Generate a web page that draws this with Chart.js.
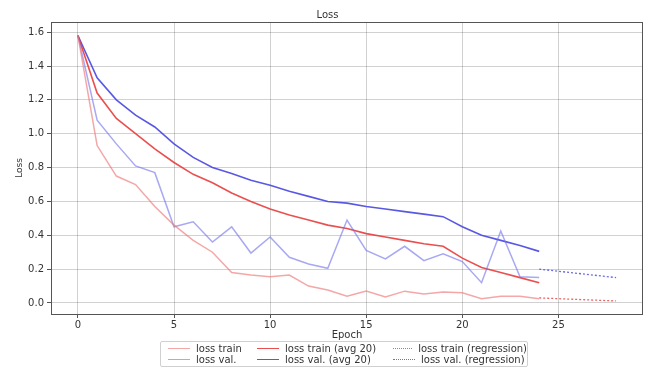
<!DOCTYPE html>
<html>
<head>
<meta charset="utf-8">
<script src="https://cdn.jsdelivr.net/npm/chart.js@4.4.0/dist/chart.umd.min.js"></script>
<style>
    html, body { margin: 0; padding: 0; background: #fff; }
    #wrap { position: relative; width: 650px; height: 369px; }
    #legend
    {
        position: absolute; left: 160px; top: 341px; width: 368px; height: 26px;
        border: 1px solid #d0d0d0; border-radius: 2px; box-sizing: border-box;
        display: grid; grid-template-columns: 89px 136px 134px; grid-template-rows: 11px 11px;
        padding: 1px 0 0 7px;
        font: 10px "DejaVu Sans", sans-serif; color: #333;
    }
    .item { display: flex; align-items: center; white-space: nowrap; line-height: 11px; }
    .swatch { width: 22px; height: 0; margin-right: 6px; border-top-width: 1.5px; }
</style>
</head>
<body>
<div id="wrap">
    <canvas id="lossChart" width="650" height="369"></canvas>
    <div id="legend"></div>
</div>
<script>
const epochs = [0,1,2,3,4,5,6,7,8,9,10,11,12,13,14,15,16,17,18,19,20,21,22,23,24];
const lossTrain = [1.58,0.93,0.75,0.70,0.57,0.46,0.37,0.30,0.18,0.165,0.155,0.165,0.10,0.077,0.04,0.07,0.035,0.07,0.053,0.065,0.06,0.025,0.04,0.04,0.025];
const lossTrainAvg = [1.58,1.24,1.09,1.00,0.91,0.83,0.76,0.71,0.65,0.60,0.555,0.52,0.49,0.46,0.44,0.41,0.39,0.37,0.35,0.335,0.265,0.21,0.18,0.15,0.12];
const lossVal = [1.58,1.08,0.94,0.81,0.77,0.45,0.48,0.36,0.45,0.295,0.39,0.27,0.23,0.205,0.49,0.31,0.26,0.335,0.25,0.29,0.245,0.12,0.425,0.155,0.15];
const lossValAvg = [1.58,1.33,1.20,1.11,1.04,0.94,0.86,0.80,0.765,0.725,0.695,0.66,0.63,0.60,0.59,0.57,0.555,0.54,0.525,0.51,0.45,0.40,0.37,0.34,0.305];
const regEpochs = [24, 28];
const lossTrainReg = [0.03, 0.012];
const lossValReg = [0.20, 0.15];
const xTicks = [0, 5, 10, 15, 20, 25];
const yTicks = [0.0, 0.2, 0.4, 0.6, 0.8, 1.0, 1.2, 1.4, 1.6];

function pts(xs, ys) 
{
    return xs.map((x, i) => ({ x: x, y: ys[i] }));
}

const FONT = '"DejaVu Sans", sans-serif';

const datasets = [
    { label: 'loss train', data: pts(epochs, lossTrain), borderColor: 'rgba(238,120,120,0.65)', borderWidth: 1.5 },
    { label: 'loss val.', data: pts(epochs, lossVal), borderColor: 'rgba(110,110,235,0.6)', borderWidth: 1.5 },
    { label: 'loss train (avg 20)', data: pts(epochs, lossTrainAvg), borderColor: 'rgba(232,60,60,0.9)', borderWidth: 1.6 },
    { label: 'loss val. (avg 20)', data: pts(epochs, lossValAvg), borderColor: 'rgba(70,70,225,0.9)', borderWidth: 1.6 },
    { label: 'loss train (regression)', data: pts(regEpochs, lossTrainReg), borderColor: 'rgba(232,60,60,0.8)', borderWidth: 1.3, borderDash: [2, 2] },
    { label: 'loss val. (regression)', data: pts(regEpochs, lossValReg), borderColor: 'rgba(70,70,225,0.8)', borderWidth: 1.3, borderDash: [2, 2] }
];
datasets.forEach(d => { d.pointRadius = 0; d.tension = 0; d.fill = false; });

const frame = {
    id: 'frame',
    afterDraw(chart) 
    {
        const a = chart.chartArea, c = chart.ctx;
        c.save();
        c.strokeStyle = '#555';
        c.lineWidth = 1;
        c.strokeRect(Math.round(a.left) + 0.5, Math.round(a.top) + 0.5, Math.round(a.right - a.left) - 1, Math.round(a.bottom - a.top));
        c.restore();
    }
};

const ctx = document.getElementById('lossChart').getContext('2d');
new Chart(ctx, {
    type: 'line',
    data: { datasets: datasets },
    options: 
    {
        responsive: false,
        animation: false,
        layout: { padding: { left: 12, right: 7, top: 0, bottom: 28 } },
        plugins: 
        {
            legend: { display: false },
            tooltip: { enabled: false },
            title: 
            {
                display: true,
                text: 'Loss',
                color: '#333',
                font: { family: FONT, size: 10, weight: 'normal' },
                padding: { top: 9, bottom: 1 }
            }
        },
        scales: 
        {
            x: 
            {
                type: 'linear',
                min: -1.4,
                max: 29.4,
                afterBuildTicks: s => { s.ticks = xTicks.map(v => ({ value: v })); },
                afterFit: s => { s.height = 27; },
                ticks: { color: '#333', font: { family: FONT, size: 10 }, padding: 1, maxRotation: 0 },
                grid: { color: 'rgba(0,0,0,0.18)', tickColor: '#555', tickLength: 4 },
                border: { display: false },
                title: { display: true, text: 'Epoch', color: '#333', font: { family: FONT, size: 10 }, padding: { top: 0, bottom: 0 } }
            },
            y: 
            {
                min: -0.065,
                max: 1.66,
                afterBuildTicks: s => { s.ticks = yTicks.map(v => ({ value: v })); },
                afterFit: s => { s.width = 39; },
                ticks: { color: '#333', font: { family: FONT, size: 10 }, padding: 3, callback: v => v.toFixed(1) },
                grid: { color: 'rgba(0,0,0,0.18)', tickColor: '#555', tickLength: 4 },
                border: { display: false },
                title: { display: true, text: 'Loss', color: '#333', font: { family: FONT, size: 9 }, padding: { top: 2, bottom: 0 } }
            }
        }
    },
    plugins: [frame]
});

// legend, 3 columns like matplotlib (ncol=3, filled column-wise)
const order = [0, 2, 4, 1, 3, 5];
const legend = document.getElementById('legend');
order.forEach(i => {
    const d = datasets[i];
    const item = document.createElement('div');
    item.className = 'item';
    const sw = document.createElement('span');
    sw.className = 'swatch';
    sw.style.borderTopStyle = d.borderDash ? 'dotted' : 'solid';
    sw.style.borderTopColor = d.borderColor;
    const txt = document.createElement('span');
    txt.textContent = d.label;
    item.appendChild(sw);
    item.appendChild(txt);
    legend.appendChild(item);
});
</script>
</body>
</html>
